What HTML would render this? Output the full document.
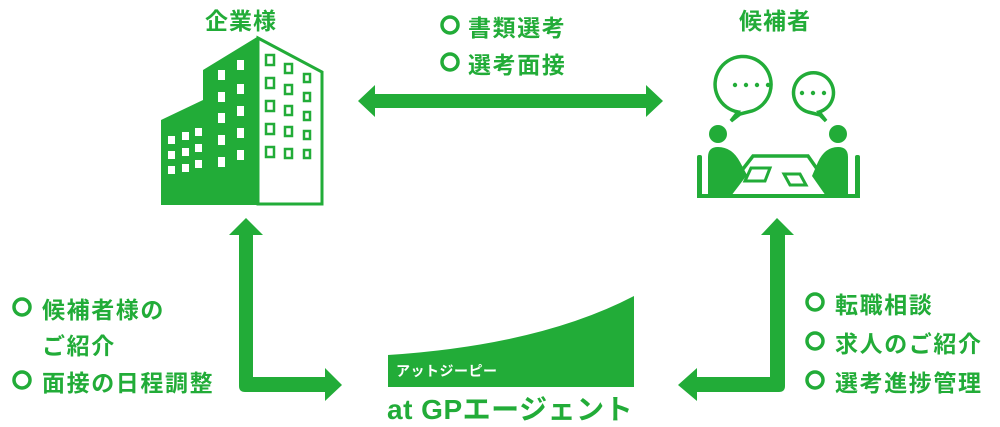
<!DOCTYPE html>
<html><head><meta charset="utf-8"><style>
body{margin:0;background:#fff;width:1000px;height:427px;overflow:hidden;position:relative;font-family:"Liberation Sans","Noto Sans CJK JP",sans-serif;}
.t{position:absolute;color:#22ac38;font-weight:bold;white-space:nowrap;}
.l{letter-spacing:1.6px;font-size:23px;}
</style></head><body>
<svg width="1000" height="427" style="position:absolute;left:0;top:0">
<g fill="#22ac38">
<polygon points="358,101 375,85 375,94 646,94 646,85 663,101 646,117 646,108 375,108 375,117"/>
<path d="M229,235 L246,218 L263,235 L253,235 L253,377 L325,377 L325,368 L342,385 L325,401 L325,392 L245,392 Q239,392 239,386 L239,235 Z"/>
<path d="M761,235 L777,218 L794,235 L785,235 L785,386 Q785,392 779,392 L697,392 L697,401 L678,385 L697,368 L697,377 L770,377 L770,235 Z"/>
<polygon points="161,120 203,100 203,70 257,37 257,205 161,205"/>
</g>
<polygon points="258,38 322,72 322,204 258,204" fill="#fff" stroke="#22ac38" stroke-width="3"/>
<g fill="#fff">
<rect x="168" y="136" width="7" height="8"/><rect x="182" y="132" width="7" height="8"/><rect x="195" y="128" width="7" height="8"/>
<rect x="168" y="151" width="7" height="8"/><rect x="182" y="148" width="7" height="8"/><rect x="195" y="144" width="7" height="8"/>
<rect x="168" y="166" width="7" height="8"/><rect x="182" y="164" width="7" height="8"/><rect x="195" y="160" width="7" height="8"/>
<rect x="218" y="70" width="7" height="10"/><rect x="237" y="60" width="7" height="10"/>
<rect x="218" y="92" width="7" height="10"/><rect x="237" y="84" width="7" height="10"/>
<rect x="218" y="113" width="7" height="10"/><rect x="237" y="106" width="7" height="10"/>
<rect x="218" y="135" width="7" height="10"/><rect x="237" y="128" width="7" height="10"/>
<rect x="218" y="157" width="7" height="10"/><rect x="237" y="150" width="7" height="10"/>
</g>
<g fill="none" stroke="#22ac38" stroke-width="2.5">
<rect x="266" y="55" width="8" height="10"/><rect x="285" y="64" width="7" height="9"/><rect x="304" y="74" width="6" height="8"/>
<rect x="266" y="78" width="8" height="10"/><rect x="285" y="85" width="7" height="9"/><rect x="304" y="93" width="6" height="8"/>
<rect x="266" y="101" width="8" height="10"/><rect x="285" y="106" width="7" height="9"/><rect x="304" y="112" width="6" height="8"/>
<rect x="266" y="124" width="8" height="10"/><rect x="285" y="127" width="7" height="9"/><rect x="304" y="131" width="6" height="8"/>
<rect x="266" y="147" width="8" height="10"/><rect x="285" y="149" width="7" height="9"/><rect x="304" y="150" width="6" height="8"/>
</g>
<g fill="none" stroke="#22ac38" stroke-width="3.5">
<path d="M738,112 A28,28 0 1 1 752,111 L740,114 L731,121 Z"/>
<path d="M819,112 A20,20 0 1 0 808,112 L820,115 L826,121 Z"/>
<polygon points="753,156 808,156 836,196 722,196"/>
</g>
<g fill="#22ac38">
<circle cx="735" cy="85" r="2.2"/><circle cx="746" cy="85" r="2.2"/><circle cx="757" cy="85" r="2.2"/><circle cx="768" cy="85" r="2.2"/>
<circle cx="802" cy="93" r="2.2"/><circle cx="813" cy="93" r="2.2"/><circle cx="824" cy="93" r="2.2"/>
<circle cx="718" cy="134" r="9"/><circle cx="838" cy="134" r="9"/>
<path d="M708,196 L708,157 Q708,147 718,147 Q732,147 740,162 L747,175 L731,196 Z"/>
<path d="M848,196 L848,157 Q848,147 838,147 Q825,147 818,162 L812,176 L826,196 Z"/>
<rect x="697" y="155" width="5" height="42" rx="2"/><rect x="855" y="155" width="5" height="42" rx="2"/>
<rect x="697" y="194" width="163" height="4"/>
</g>
<g fill="none" stroke="#22ac38" stroke-width="3">
<polygon points="751,168 770,168 765,181 745,181"/>
<polygon points="784,174 800,174 806,185 790,185"/>
</g>
<path d="M388,355 Q540,345 634,296 L634,387 L388,387 Z" fill="#22ac38"/>
<g fill="none" stroke="#22ac38" stroke-width="3.5">
<circle cx="450" cy="25" r="8"/><circle cx="450" cy="62" r="8"/>
<circle cx="22" cy="307" r="8"/><circle cx="22" cy="380" r="8"/>
<circle cx="815" cy="302" r="8"/><circle cx="815" cy="341" r="8"/><circle cx="815" cy="380" r="8"/>
</g>
</svg>
<div class="t" style="left:196px;top:2px;font-size:23px;width:90px;text-align:center;letter-spacing:1px">企業様</div>
<div class="t" style="left:730px;top:2px;font-size:23px;width:90px;text-align:center;letter-spacing:1px">候補者</div>
<div class="t l" style="left:468px;top:9px">書類選考</div>
<div class="t l" style="left:468px;top:46px">選考面接</div>
<div class="t l" style="left:42px;top:291px">候補者様の</div>
<div class="t l" style="left:42px;top:327px">ご紹介</div>
<div class="t l" style="left:42px;top:364px">面接の日程調整</div>
<div class="t l" style="left:835px;top:286px">転職相談</div>
<div class="t l" style="left:835px;top:325px">求人のご紹介</div>
<div class="t l" style="left:835px;top:364px">選考進捗管理</div>
<div class="t" style="left:396px;top:361px;font-size:14px;color:#fff;letter-spacing:0.5px">アットジーピー</div>
<div class="t" style="left:387px;top:393px;font-size:28px;letter-spacing:0.5px;line-height:34px">at GPエージェント</div>
</body></html>
